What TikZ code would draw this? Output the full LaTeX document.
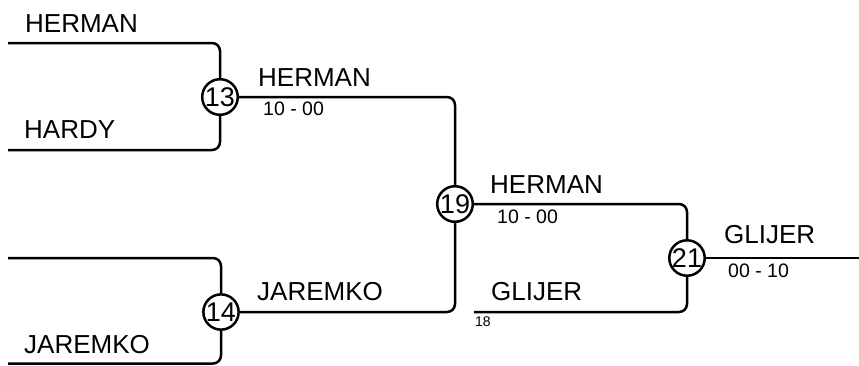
\documentclass[tikz,border=0pt]{standalone}
\usepackage{fontspec}
\setsansfont{Liberation Sans}
\usetikzlibrary{positioning}

\begin{document}
\begin{tikzpicture}[x=1pt,y=-1pt,font=\sffamily]
		
		% Setup the styles for the bracket
		\tikzset{match style/.style={circle,
				draw,
				line width=2.5pt,
				minimum size=34pt,
				inner sep=0pt,
				fill=white,
				font=\sffamily\fontsize{27}{27}\selectfont},
			name style/.style={anchor=base west, inner sep=0pt,
				font=\sffamily\fontsize{26}{26}\selectfont},
			score style/.style={anchor=base west, inner sep=0pt,
				font=\sffamily\fontsize{19.5}{19.5}\selectfont},
			seed style/.style={anchor=base west, inner sep=0pt,
				font=\sffamily\fontsize{14}{14}\selectfont},
			line style/.style={line width=2.5pt, rounded corners=8pt}}
		
		\useasboundingbox (0,0) rectangle (859,365);
		
		% Draw the matches
		\node[match style] at (220, 97)  (m13) {13};
		\node[match style] at (221, 312) (m14) {14};
		\node[match style] at (455, 204) (m19) {19};
		\node[match style] at (687, 258) (m21) {21};
		
		% Free ends of the bracket
		\coordinate (herman) at (8, 43);
		\coordinate (hardy) at (8, 150);
		\coordinate (jaremko) at (8, 258);
		\coordinate (jaremkob) at (8, 363.5);
		\coordinate (glijer) at (474, 312);
		\coordinate (champion) at (859, 258);
		
		% Connect the matches
		\draw[line style] (herman) -| (m13);
		\draw[line style] (hardy) -| (m13);
		\draw[line style] (jaremko) -| (m14);
		\draw[line style] (jaremkob) -| (m14);
		\draw[line style] (m13) -| (m19);
		\draw[line style] (m14) -| (m19);
		\draw[line style] (m19) -| (m21);
		\draw[line style] (glijer) -| (m21);
		\draw[line style] (m21) -- (champion);
		
		% Names and scores
		\node[name style] at (25, 32)   (herman1) {HERMAN};
		\node[name style] at (24, 138)  (hardy1) {HARDY};
		\node[name style] at (24, 353)  (jaremko1) {JAREMKO};
		\node[name style] at (258, 86)  (herman2) {HERMAN};
		\node[score style] at (263, 115) (score13) {10 - 00};
		\node[name style] at (257, 300) (jaremko2) {JAREMKO};
		\node[name style] at (490, 193) (herman3) {HERMAN};
		\node[score style] at (497, 223) (score19) {10 - 00};
		\node[name style] at (491, 300) (glijer1) {GLIJER};
		\node[seed style] at (475, 326) (seed18) {18};
		\node[name style] at (724, 243) (glijer2) {GLIJER};
		\node[score style] at (728, 277) (score21) {00 - 10};
		
\end{tikzpicture}
\end{document}
